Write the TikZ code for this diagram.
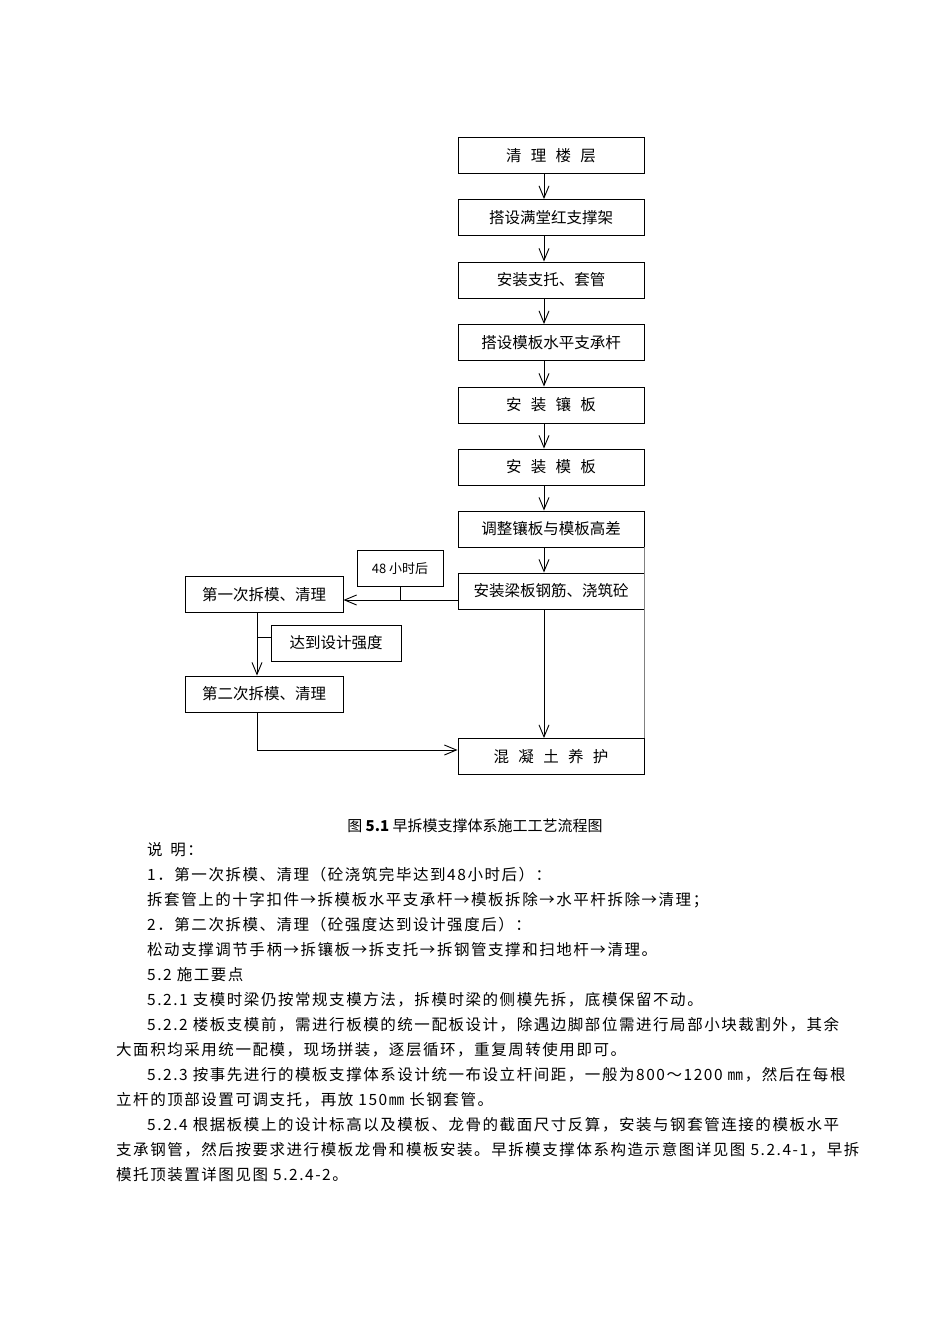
\documentclass[tikz,border=0pt]{standalone}
\usepackage{fontspec}
\setmainfont{Noto Sans CJK SC}
\newfontfamily\bodyfont[LetterSpace=10]{Noto Sans CJK SC}
\usetikzlibrary{arrows.meta}
\begin{document}
\begin{tikzpicture}[x=1pt,y=-1pt,
  box/.style={draw,line width=0.9pt,minimum height=36pt,inner sep=0pt,font=\fontsize{15.5}{18}\selectfont},
  mbox/.style={box,minimum width=186pt},
  lbox/.style={box,minimum width=158pt},
  arr/.style={-{Straight Barb[length=12pt,width=10pt]},line width=0.9pt},
  txt/.style={anchor=west,inner sep=0pt,font=\bodyfont\fontsize{15.5}{17}\selectfont}]
\useasboundingbox (0,0) rectangle (950,1344);
\node[mbox] (b1) at (551,155.5) {清\hspace{0.6em}理\hspace{0.6em}楼\hspace{0.6em}层};
\node[mbox] (b2) at (551,217.5) {搭设满堂红支撑架};
\node[mbox] (b3) at (551,280) {安装支托、套管};
\node[mbox] (b4) at (551,342.5) {搭设模板水平支承杆};
\node[mbox] (b5) at (551,405) {安\hspace{0.6em}装\hspace{0.6em}镶\hspace{0.6em}板};
\node[mbox] (b6) at (551,467) {安\hspace{0.6em}装\hspace{0.6em}模\hspace{0.6em}板};
\node[mbox] (b7) at (551,529) {调整镶板与模板高差};
\node[mbox] (b8) at (551,591) {安装梁板钢筋、浇筑砼};
\node[mbox] (b9) at (551,756.5) {混\hspace{0.6em}凝\hspace{0.6em}土\hspace{0.6em}养\hspace{0.6em}护};
\node[lbox] (l1) at (264,594.5) {第一次拆模、清理};
\node[lbox] (l2) at (264,694) {第二次拆模、清理};
\node[box,minimum width=130pt] (c1) at (336,643) {达到设计强度};
\node[box,minimum width=86pt,font=\fontsize{13}{15}\selectfont] (c2) at (400,568.5) {48 小时后};
\foreach \a/\b in {b1/b2,b2/b3,b3/b4,b4/b5,b5/b6,b6/b7,b7/b8,b8/b9}
  \draw[arr] ([xshift=-7pt]\a.south) -- ([xshift=-7pt]\b.north);
\draw[gray,line width=0.9pt] (b7.south east) -- (b9.north east);
\coordinate (j1) at (400,600);
\draw[arr] (b8.west |- j1) -- (l1.east |- j1);
\draw[line width=0.9pt] (c2.south) -- (j1);
\draw[arr] ([xshift=-7pt]l1.south) -- ([xshift=-7pt]l2.north);
\draw[line width=0.9pt] (257,637) -- (c1.west |- 0,637);
\draw[arr] ([xshift=-7pt]l2.south) |- (b9.west |- 0,750);
\node[font=\fontsize{15}{17}\selectfont] (cap) at (475,826) {图 \textbf{5.1} 早拆模支撑体系施工工艺流程图};
\node[txt] (t1) at (147,850) {说\hspace{0.5em}明：};
\node[txt] (t2) at (147,875) {1．第一次拆模、清理（砼浇筑完毕达到48小时后）：};
\node[txt] (t3) at (147,900) {拆套管上的十字扣件→拆模板水平支承杆→模板拆除→水平杆拆除→清理；};
\node[txt] (t4) at (147,925) {2．第二次拆模、清理（砼强度达到设计强度后）：};
\node[txt] (t5) at (147,950) {松动支撑调节手柄→拆镶板→拆支托→拆钢管支撑和扫地杆→清理。};
\node[txt] (t6) at (147,975) {5.2 施工要点};
\node[txt] (t7) at (147,1000) {5.2.1 支模时梁仍按常规支模方法，拆模时梁的侧模先拆，底模保留不动。};
\node[txt] (t8) at (147,1025) {5.2.2 楼板支模前，需进行板模的统一配板设计，除遇边脚部位需进行局部小块裁割外，其余};
\node[txt] (t9) at (116,1050) {大面积均采用统一配模，现场拼装，逐层循环，重复周转使用即可。};
\node[txt] (t10) at (147,1075) {5.2.3 按事先进行的模板支撑体系设计统一布设立杆间距，一般为800～1200 ㎜，然后在每根};
\node[txt] (t11) at (116,1100) {立杆的顶部设置可调支托，再放 150㎜ 长钢套管。};
\node[txt] (t12) at (147,1125) {5.2.4 根据板模上的设计标高以及模板、龙骨的截面尺寸反算，安装与钢套管连接的模板水平};
\node[txt] (t13) at (116,1150) {支承钢管，然后按要求进行模板龙骨和模板安装。早拆模支撑体系构造示意图详见图 5.2.4-1，早拆};
\node[txt] (t14) at (116,1175) {模托顶装置详图见图 5.2.4-2。};
\end{tikzpicture}
\end{document}
